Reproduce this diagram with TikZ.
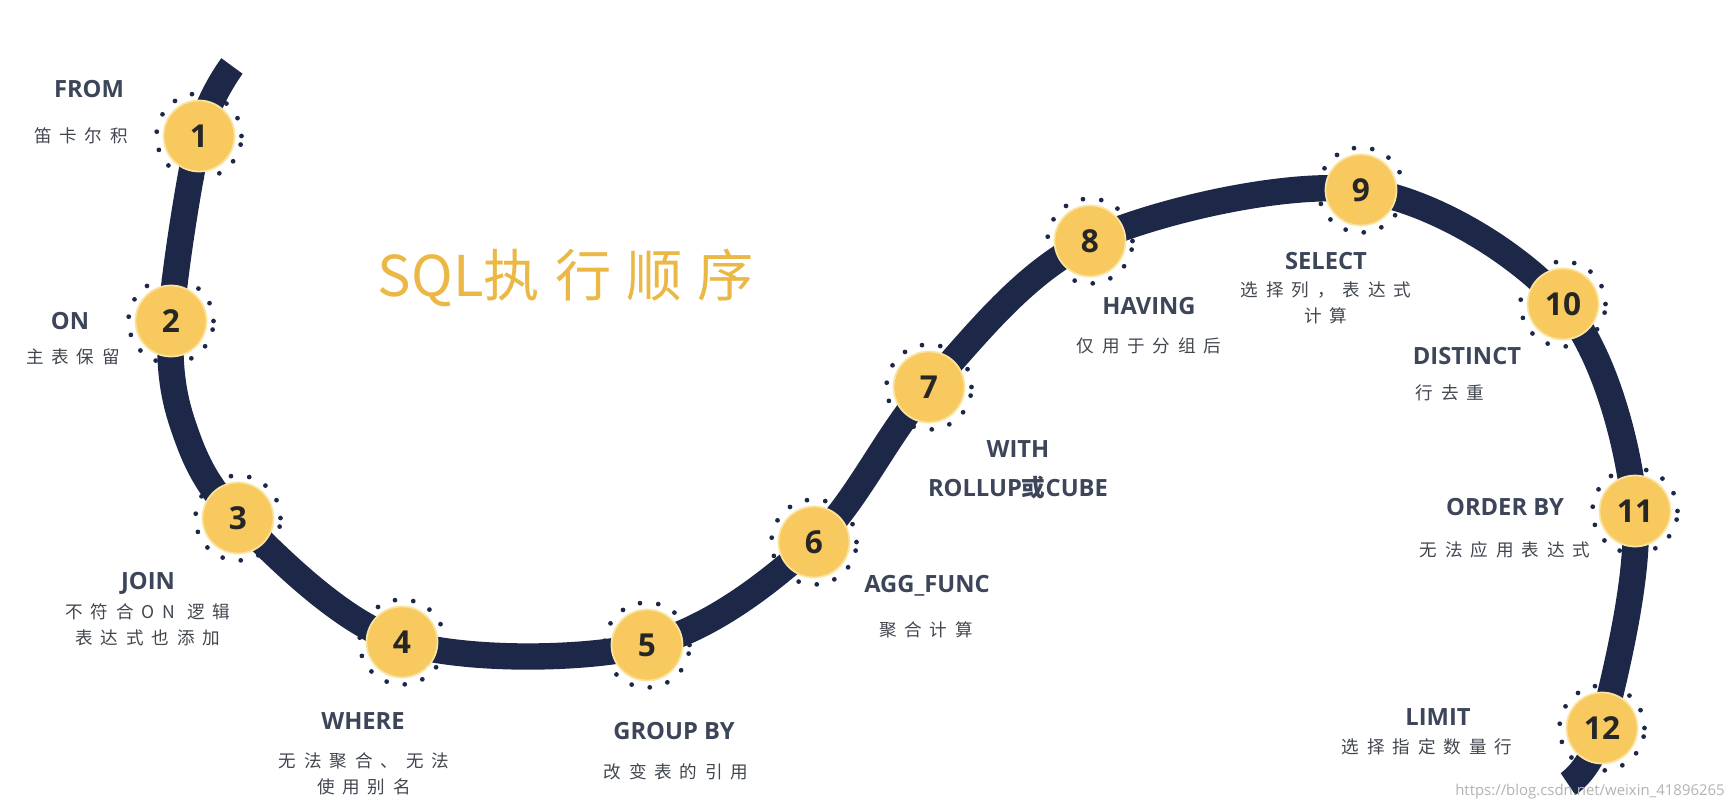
\documentclass[tikz,border=0pt]{standalone}
\usepackage{fontspec}
\setsansfont{Open Sans}
\newfontfamily\cjk[LetterSpace=45]{Noto Sans CJK SC}
\newfontfamily\cjktitle[LetterSpace=27]{Noto Sans CJK SC}
\newfontfamily\cjkkw{Noto Sans CJK SC}

\definecolor{navy}{HTML}{1D2747}
\definecolor{sun}{HTML}{F7C95E}
\definecolor{sunrim}{HTML}{FBE3A0}
\definecolor{slate}{HTML}{3C4658}
\definecolor{ink}{HTML}{41464F}
\definecolor{gold}{HTML}{EBB845}

\begin{document}
\begin{tikzpicture}[x=0.02cm, y=-0.02cm,
    track/.style={line width=15pt, draw=navy, line cap=butt},
    ring/.style={draw=navy, line width=2.7pt, line cap=round, dash pattern=on 0pt off 10.5pt},
    station/.style={circle, fill=sun, draw=sunrim, line width=1pt, minimum size=1.42cm, inner sep=0pt,
      font=\sffamily\bfseries\fontsize{18}{18}\selectfont, text=black!85},
    kw/.style={font=\sffamily\bfseries\fontsize{13.5}{22}\selectfont, text=slate, align=center, inner sep=0pt},
    desc/.style={font=\cjk\fontsize{10}{14.5}\selectfont, text=ink, align=center, inner sep=0pt},
    titletext/.style={font=\fontsize{32}{32}\selectfont, text=gold, inner sep=0pt}]
  \useasboundingbox (0,0) rectangle (1735,809);

  % Stationen der Strecke
  \coordinate (top) at (232,66);
  \coordinate (s1) at (199,136);
  \coordinate (s2) at (171,321);
  \coordinate (bend) at (183,425);
  \coordinate (s3) at (238,518);
  \coordinate (s4) at (402,642);
  \coordinate (s5) at (647,645);
  \coordinate (s6) at (814,542);
  \coordinate (s7) at (929,387);
  \coordinate (s8) at (1090,241);
  \coordinate (s9) at (1361,190);
  \coordinate (s10) at (1563,304);
  \coordinate (s11) at (1635,511);
  \coordinate (s12) at (1602,728);
  \coordinate (bottom) at (1568,784);

  % Strecke
  \draw[track] plot[smooth, tension=0.55] coordinates {(top) (s1) (s2) (bend) (s3) (s4) (s5) (s6) (s7) (s8) (s9) (s10) (s11) (s12) (bottom)};

  % Kreise mit Nummern
  \foreach \i in {1,...,12} {
    \draw[ring] (s\i) circle[radius=0.85cm];
    \node[station] (n\i) at (s\i) {\i};
  }

  % Titel
  \node[titletext] (title) at (566,278) {{\cjkkw SQL}{\cjktitle 执行顺序}};

  % Beschriftungen
  \node[kw] (k1) at (89,89) {FROM};
  \node[desc] (d1) at (81,136) {笛卡尔积};
  \node[kw] (k2) at (70,321) {ON};
  \node[desc] (d2) at (73,357) {主表保留};
  \node[kw] (k3) at (148,583) {JOIN};
  \node[desc] (d3) at (148,625) {不符合ON 逻辑\\表达式也添加};
  \node[kw] (k4) at (363,721) {WHERE};
  \node[desc] (d4) at (364,774) {无法聚合、无法\\使用别名};
  \node[kw] (k5) at (674,731) {GROUP BY};
  \node[desc] (d5) at (676,772) {改变表的引用};
  \node[kw] (k6) at (927,586) {AGG\_FUNC};
  \node[desc] (d6) at (926,630) {聚合计算};
  \node[kw] (k7) at (1018,470) {WITH\\ROLLUP{\cjkkw\bfseries 或}CUBE};
  \node[kw] (k8) at (1149,306) {HAVING};
  \node[desc] (d8) at (1149,346) {仅用于分组后};
  \node[kw] (k9) at (1326,261) {SELECT};
  \node[desc] (d9) at (1326,303) {选择列，表达式\\计算};
  \node[kw] (k10) at (1467,356) {DISTINCT};
  \node[desc] (d10) at (1450,393) {行去重};
  \node[kw] (k11) at (1505,507) {ORDER BY};
  \node[desc] (d11) at (1505,550) {无法应用表达式};
  \node[kw] (k12) at (1438,717) {LIMIT};
  \node[desc] (d12) at (1427,747) {选择指定数量行};

  % Wasserzeichen
  \node[font=\sffamily\fontsize{8.5}{10}\selectfont, text=black!30, inner sep=0pt] (mark) at (1590,792) {https://blog.csdn.net/weixin\_41896265};
\end{tikzpicture}
\end{document}
